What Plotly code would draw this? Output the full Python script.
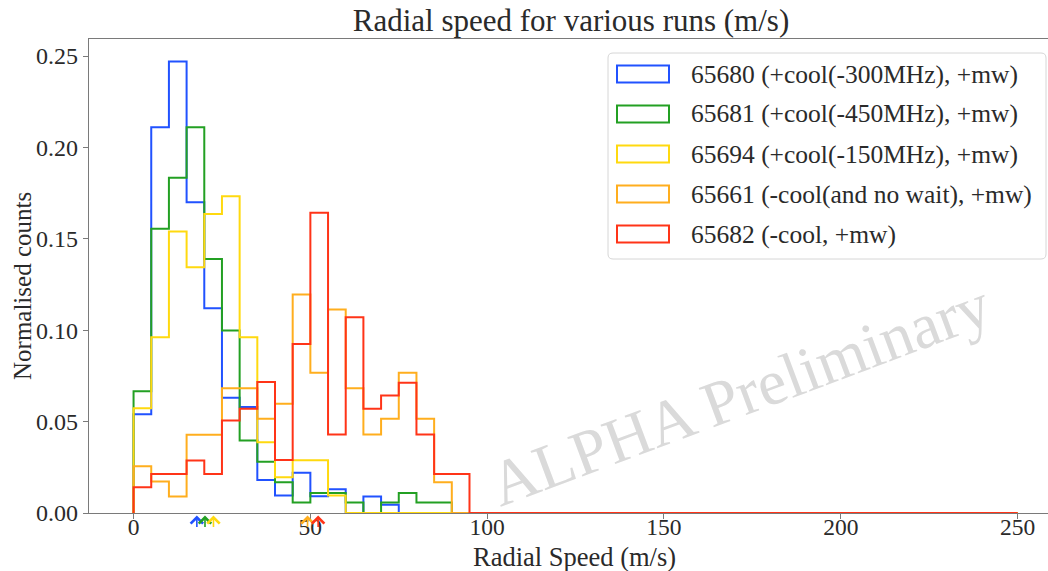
import numpy as np
import plotly.graph_objects as go

# ---------------- data ----------------
bin_width = 5
speed_min, speed_max = 0, 250

series_labels = [
    "65680 (+cool(-300MHz), +mw)",
    "65681 (+cool(-450MHz), +mw)",
    "65694 (+cool(-150MHz), +mw)",
    "65661 (-cool(and no wait), +mw)",
    "65682 (-cool, +mw)",
]

# normalised counts per 5 m/s bin, starting at 0 m/s (bins beyond 100 m/s are empty)
counts_65680 = [0.054, 0.211, 0.247, 0.170, 0.112, 0.063, 0.058, 0.018, 0.0096, 0.022,
                0.0092, 0.013, 0.0, 0.009, 0.0045, 0.0, 0.0, 0.0, 0.0, 0.0]
counts_65681 = [0.0666, 0.1555, 0.1834, 0.211, 0.139, 0.0998, 0.0397, 0.028, 0.0168, 0.0058,
                0.011, 0.011, 0.0058, 0.0, 0.0058, 0.011, 0.0058, 0.0058, 0.0, 0.0]
counts_65694 = [0.0573, 0.0962, 0.154, 0.1345, 0.1635, 0.1733, 0.0962, 0.0387, 0.0196, 0.0289,
                0.0289, 0.0096, 0.0, 0.0, 0.0, 0.0, 0.0, 0.0, 0.0, 0.0]
counts_65661 = [0.0256, 0.0172, 0.009, 0.0428, 0.0428, 0.0683, 0.0683, 0.0515, 0.0597, 0.1195,
                0.0767, 0.1113, 0.0683, 0.0429, 0.0515, 0.0767, 0.0515, 0.0168, 0.0, 0.0]
counts_65682 = [0.0141, 0.0214, 0.0214, 0.0287, 0.0214, 0.0506, 0.057, 0.0716, 0.029, 0.0925,
                0.1642, 0.0429, 0.1071, 0.057, 0.0643, 0.0712, 0.0429, 0.0214, 0.0214, 0.0]

# mean speeds marked by small arrows under the axis
mean_speeds = [17.9, 20.2, 22.6, 49.2, 52.2]

x_ticks = [0, 50, 100, 150, 200, 250]
y_ticks = [0.00, 0.05, 0.10, 0.15, 0.20, 0.25]

title_text = "Radial speed for various runs (m/s)"
x_title = "Radial Speed (m/s)"
y_title = "Normalised counts"
watermark = "ALPHA Preliminary"

# ---------------- styles ----------------
colors = ["#2152ff", "#23a023", "#ffd90f", "#ffae1e", "#ff3418"]
FONT = "Liberation Serif"
TXT = "#2a2a2a"
SPINE = "#7a7a7a"

W, H = 1048, 571
ML, MR, MT, MB = 89, 0, 39, 58
PW, PH = W - ML - MR, H - MT - MB


def px_x(p):
    return (p - ML) / PW


def px_y(p):
    return (H - MB - p) / PH


all_counts = [counts_65680, counts_65681, counts_65694, counts_65661, counts_65682]
n_bins = (speed_max - speed_min) // bin_width
edges = np.arange(speed_min, speed_max + bin_width, bin_width)


def step_path(vals):
    vals = list(vals) + [0.0] * (n_bins - len(vals))
    xs, ys = [edges[0]], [0.0]
    for i, v in enumerate(vals):
        xs += [edges[i], edges[i + 1]]
        ys += [v, v]
    xs.append(edges[-1])
    ys.append(0.0)
    return xs, ys


fig = go.Figure()
for name, vals, col in zip(series_labels, all_counts, colors):
    xs, ys = step_path(vals)
    fig.add_trace(go.Scatter(x=xs, y=ys, mode="lines", name=name,
                             line=dict(color=col, width=2),
                             cliponaxis=False, showlegend=False, hoverinfo="skip"))

annotations = []
shapes = []

# mean arrows
for m, col in zip(mean_speeds, colors):
    annotations.append(dict(x=m, y=px_y(515.5), xref="x", yref="paper",
                            text="", showarrow=True, ax=0, ay=13,
                            arrowhead=4, arrowsize=1.5, arrowwidth=1.6,
                            arrowcolor=col))

# watermark
annotations.append(dict(x=171.5, y=0.0648, xref="x", yref="y", text=watermark,
                        showarrow=False, textangle=-20.5,
                        font=dict(family=FONT, size=64, color="#dadada"),
                        xanchor="center", yanchor="middle"))

# axis titles
annotations.append(dict(x=px_x(574), y=px_y(557), xref="paper", yref="paper",
                        text=x_title, showarrow=False, xanchor="center", yanchor="middle",
                        font=dict(family=FONT, size=26.5, color=TXT)))
annotations.append(dict(x=px_x(22), y=px_y(286), xref="paper", yref="paper",
                        text=y_title, showarrow=False, xanchor="center", yanchor="middle",
                        textangle=-90,
                        font=dict(family=FONT, size=25, color=TXT)))

# custom legend (rounded box, outlined patches, labels)
bx0, by0, bx1, by1, r = 608, 53, 1046, 259, 5
path = (f"M{px_x(bx0 + r)},{px_y(by0)} L{px_x(bx1 - r)},{px_y(by0)} "
        f"Q{px_x(bx1)},{px_y(by0)} {px_x(bx1)},{px_y(by0 + r)} "
        f"L{px_x(bx1)},{px_y(by1 - r)} Q{px_x(bx1)},{px_y(by1)} {px_x(bx1 - r)},{px_y(by1)} "
        f"L{px_x(bx0 + r)},{px_y(by1)} Q{px_x(bx0)},{px_y(by1)} {px_x(bx0)},{px_y(by1 - r)} "
        f"L{px_x(bx0)},{px_y(by0 + r)} Q{px_x(bx0)},{px_y(by0)} {px_x(bx0 + r)},{px_y(by0)} Z")
shapes.append(dict(type="path", path=path, xref="paper", yref="paper",
                   line=dict(color="#d6d6d6", width=1),
                   fillcolor="rgba(255,255,255,0.85)", layer="above"))
for i, (name, col) in enumerate(zip(series_labels, colors)):
    cy = 74 + 40 * i
    shapes.append(dict(type="rect", xref="paper", yref="paper",
                       x0=px_x(617), x1=px_x(669), y0=px_y(cy - 8.5), y1=px_y(cy + 8.5),
                       line=dict(color=col, width=2), fillcolor="rgba(0,0,0,0)",
                       layer="above"))
    annotations.append(dict(x=px_x(689), y=px_y(cy), xref="paper", yref="paper",
                            text=name, showarrow=False, xanchor="left",
                            yanchor="middle",
                            font=dict(family=FONT, size=25.5, color=TXT)))

fig.update_layout(
    width=W, height=H,
    margin=dict(l=ML, r=MR, t=MT, b=MB, pad=0),
    paper_bgcolor="white", plot_bgcolor="white",
    showlegend=False,
    title=dict(text=title_text, x=px_x(571), xref="paper", xanchor="center",
               y=1 - 20 / H, yref="container", yanchor="middle",
               font=dict(family=FONT, size=31, color=TXT)),
    font=dict(family=FONT, color=TXT),
    annotations=annotations,
    shapes=shapes,
)

fig.update_xaxes(range=[-12.6, 258.6], showline=True, linecolor=SPINE, linewidth=1.3,
                 mirror=True, ticks="outside", ticklen=5, tickwidth=1.3, tickcolor=SPINE,
                 tickvals=x_ticks, ticktext=[str(v) for v in x_ticks],
                 showgrid=False, zeroline=False, layer="below traces",
                 tickfont=dict(family=FONT, size=23.5, color=TXT),
                 ticklabelstandoff=-12,
                 automargin=False)
fig.update_yaxes(range=[0, 0.2593], showline=True, linecolor=SPINE, linewidth=1.3,
                 mirror=False, ticks="outside", ticklen=5, tickwidth=1.3, tickcolor=SPINE,
                 tickvals=y_ticks, ticktext=[f"{v:.2f}" for v in y_ticks],
                 showgrid=False, zeroline=False, layer="below traces",
                 tickfont=dict(family=FONT, size=24, color=TXT),
                 automargin=False)

fig.write_html("out.html")
